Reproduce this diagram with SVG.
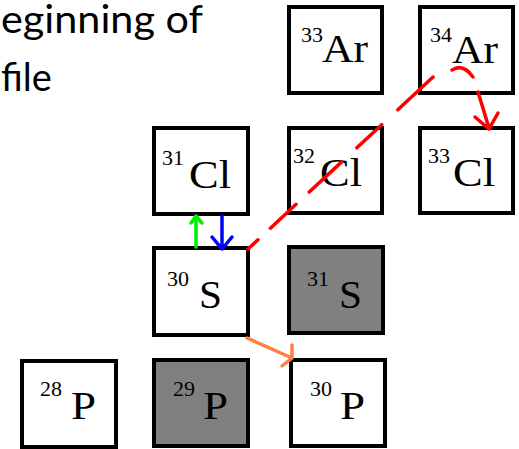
<svg xmlns="http://www.w3.org/2000/svg" width="519" height="449" viewBox="0 0 519 449">
<style>
.box{fill:#fff;stroke:#000;stroke-width:4}
.gray{fill:#808080}
.c{fill:none;stroke-width:3.5;stroke-linecap:round;stroke-linejoin:round}
</style>
<g id="title">
<text x="1" y="33" font-family="Lato, sans-serif" font-size="38" textLength="202" lengthAdjust="spacingAndGlyphs">eginning of</text>
<text x="1" y="91" font-family="Lato, sans-serif" font-size="38">file</text>
</g>
<g id="Ar33"><rect class="box" x="289" y="7" width="93" height="86"/><text font-family="Liberation Serif, serif" font-size="22" x="301" y="42">33</text><text font-family="Liberation Serif, serif" font-size="40" x="322" y="62" textLength="46" lengthAdjust="spacingAndGlyphs">Ar</text></g>
<g id="Ar34"><rect class="box" x="420" y="7" width="93" height="86"/><text font-family="Liberation Serif, serif" font-size="22" x="430" y="42">34</text><text font-family="Liberation Serif, serif" font-size="40" x="452" y="63" textLength="46" lengthAdjust="spacingAndGlyphs">Ar</text></g>
<g id="Cl31"><rect class="box" x="154" y="128" width="94" height="86"/><text font-family="Liberation Serif, serif" font-size="22" x="162" y="165">31</text><text font-family="Liberation Serif, serif" font-size="40" x="189" y="188" textLength="42" lengthAdjust="spacingAndGlyphs">Cl</text></g>
<g id="Cl32"><rect class="box" x="289" y="128" width="93" height="85"/><text font-family="Liberation Serif, serif" font-size="22" x="293" y="163">32</text><text font-family="Liberation Serif, serif" font-size="40" x="320" y="186" textLength="42" lengthAdjust="spacingAndGlyphs">Cl</text></g>
<g id="Cl33"><rect class="box" x="420" y="128" width="93" height="85"/><text font-family="Liberation Serif, serif" font-size="22" x="428" y="163">33</text><text font-family="Liberation Serif, serif" font-size="40" x="453" y="186" textLength="42" lengthAdjust="spacingAndGlyphs">Cl</text></g>
<g id="S30"><rect class="box" x="154" y="248" width="94" height="87"/><text font-family="Liberation Serif, serif" font-size="22" x="167" y="286">30</text><text font-family="Liberation Serif, serif" font-size="40" x="199" y="308" textLength="23" lengthAdjust="spacingAndGlyphs">S</text></g>
<g id="S31"><rect class="box gray" x="289" y="247" width="94" height="86"/><text font-family="Liberation Serif, serif" font-size="22" x="307" y="286">31</text><text font-family="Liberation Serif, serif" font-size="40" x="339" y="308" textLength="23" lengthAdjust="spacingAndGlyphs">S</text></g>
<g id="P28"><rect class="box" x="22" y="361" width="94" height="86"/><text font-family="Liberation Serif, serif" font-size="22" x="40" y="396">28</text><text font-family="Liberation Serif, serif" font-size="40" x="71" y="419" textLength="25" lengthAdjust="spacingAndGlyphs">P</text></g>
<g id="P29"><rect class="box gray" x="154" y="360" width="94" height="86"/><text font-family="Liberation Serif, serif" font-size="22" x="173" y="396">29</text><text font-family="Liberation Serif, serif" font-size="40" x="203" y="419" textLength="25" lengthAdjust="spacingAndGlyphs">P</text></g>
<g id="P30"><rect class="box" x="291" y="360" width="94" height="86"/><text font-family="Liberation Serif, serif" font-size="22" x="310" y="396">30</text><text font-family="Liberation Serif, serif" font-size="40" x="340" y="419" textLength="25" lengthAdjust="spacingAndGlyphs">P</text></g>
<g id="connectors">
<path class="c" stroke="#00ee00" d="M196,247 V216 M191,223 L196,216 L202,223"/>
<path class="c" stroke="#0000ff" d="M222,216 V249 M212,237 L222,249 L232,237"/>
<path class="c" stroke="#ff0000" d="M433,77 L248,249" stroke-dasharray="48 22 34 21 44 18 35 17 14"/>
<path class="c" stroke="#ff0000" d="M452,70 Q463,63 473,77 M478,92 L489,128 M475,117 L489,129 L498,113"/>
<path class="c" stroke="#ff8040" d="M247,338 L292,358 M292,345 V358 M282,366 L292,358"/>
</g>
</svg>
